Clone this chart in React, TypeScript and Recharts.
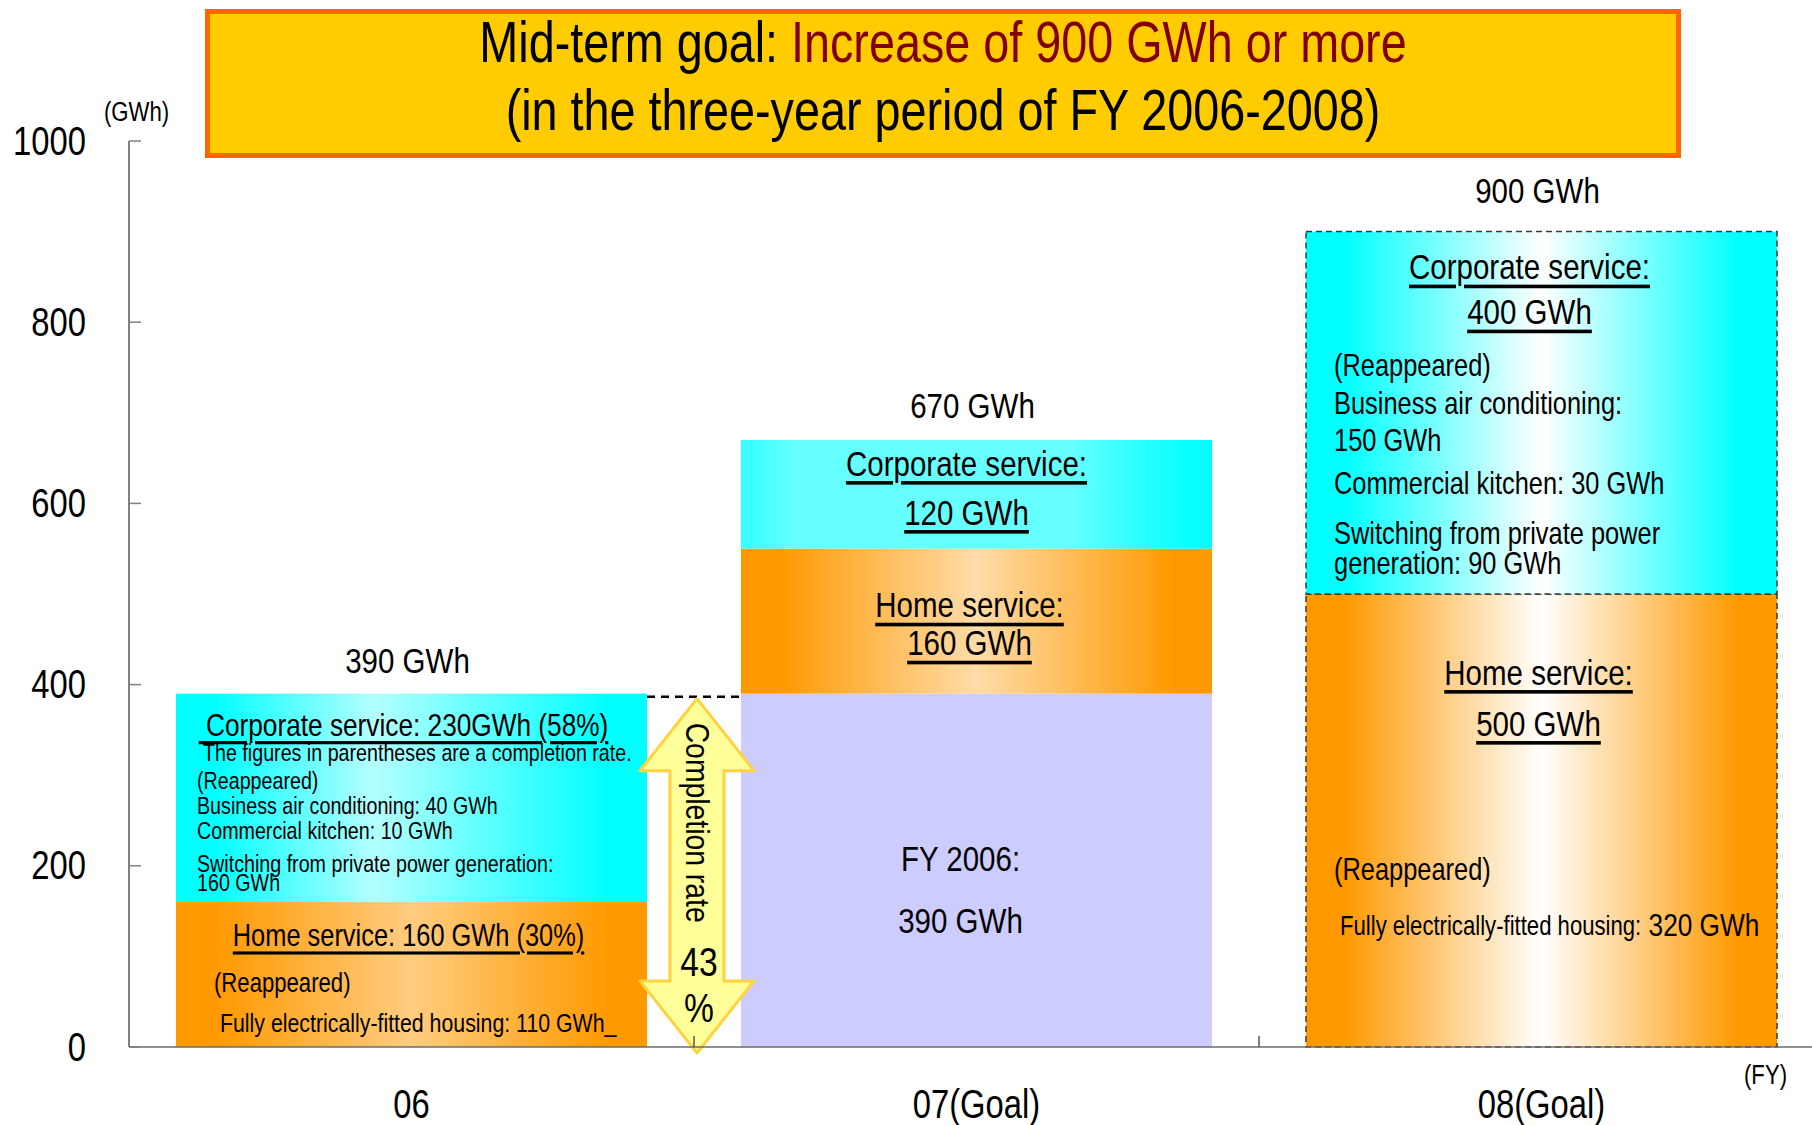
import React from "react";
import { BarChart, Bar, XAxis, YAxis } from "recharts";

const categories = ["06", "07(Goal)", "08(Goal)"];
// FY 2006 result carried into the FY 2007 goal column
const carriedOver = [0, 390, 0];
const homeService = [160, 160, 500];
const corporateService = [230, 120, 400];
const yTicks = [0, 200, 400, 600, 800, 1000];

const notes06Corporate = [
  "The figures in parentheses are a completion rate.",
  "(Reappeared)",
  "Business air conditioning: 40 GWh",
  "Commercial kitchen: 10 GWh",
  "Switching from private power generation:",
  "160 GWh",
];
const notes06Home = ["(Reappeared)", "Fully electrically-fitted housing: 110 GWh_"];
const notes08Corporate = [
  "(Reappeared)",
  "Business air conditioning:",
  "150 GWh",
  "Commercial kitchen: 30 GWh",
  "Switching from private power",
  "generation: 90 GWh",
];
const notes08Home = ["(Reappeared)", "Fully electrically-fitted housing:", "320 GWh"];

const totals = categories.map((_, i) => carriedOver[i] + homeService[i] + corporateService[i]);
const completionRate = Math.round((totals[0] / totals[2]) * 100);

const data = categories.map((name, i) => ({
  name,
  carriedOver: carriedOver[i],
  home: homeService[i],
  corporate: corporateService[i],
}));

// no narrow face installed: squeeze Liberation Sans horizontally instead
const FONT = "'Liberation Sans', Arial, sans-serif";
const SQUEEZE = 0.82;

const CHART_W = 1824;
const CHART_H = 1125;
const MARGIN = { top: 141, right: 0, bottom: 0, left: 1 };
const Y_AXIS_W = 128;
const X_AXIS_H = 78;
const CATEGORY_GAP = 47;
const BAND = (CHART_W - MARGIN.left - MARGIN.right - Y_AXIS_W) / categories.length;

type Geo = { x: number; y: number; w: number; h: number; i: number };
const geo = (p: any): Geo => ({
  x: Number(p.x) || 0,
  y: Number(p.y) || 0,
  w: Number(p.width) || 0,
  h: Number(p.height) || 0,
  i: Number(p.index) || 0,
});

function Txt({
  x,
  y,
  size,
  anchor = "start",
  underline = false,
  children,
}: {
  x: number;
  y: number;
  size?: number;
  anchor?: "start" | "middle" | "end";
  underline?: boolean;
  children: React.ReactNode;
}) {
  return (
    <text
      transform={`translate(${x} ${y}) scale(${SQUEEZE} 1)`}
      fontSize={size}
      fontFamily={FONT}
      textAnchor={anchor}
      dominantBaseline="central"
      fill="#000"
      style={underline ? { textDecoration: "underline" } : undefined}
    >
      {children}
    </text>
  );
}

function segmentRect(g: Geo, fill: string) {
  const dashed = g.i === 2;
  return (
    <rect
      x={g.x}
      y={g.y}
      width={g.w}
      height={g.h}
      fill={fill}
      stroke={dashed ? "#3a3a3a" : "none"}
      strokeWidth={1.5}
      strokeDasharray={dashed ? "6 4" : undefined}
    />
  );
}

function CompletionArrow({ cx, top, bottom }: { cx: number; top: number; bottom: number }) {
  const head = 72;
  const hw = 57;
  const sw = 27;
  const pts = [
    [cx, top],
    [cx + hw, top + head],
    [cx + sw, top + head],
    [cx + sw, bottom - head],
    [cx + hw, bottom - head],
    [cx, bottom],
    [cx - hw, bottom - head],
    [cx - sw, bottom - head],
    [cx - sw, top + head],
    [cx - hw, top + head],
  ]
    .map((p) => p.join(","))
    .join(" ");
  return (
    <g>
      <polygon points={pts} fill="#FFFF99" stroke="#FFD23F" strokeWidth={3} strokeLinejoin="round" />
      <text
        transform={`translate(${cx + 1}, ${top + 124}) rotate(90)`}
        fontSize={34}
        fontFamily={FONT}
        textAnchor="middle"
        dominantBaseline="central"
        textLength={200}
        lengthAdjust="spacingAndGlyphs"
      >
        Completion rate
      </text>
      <Txt x={cx + 2} y={bottom - 91} size={41} anchor="middle">
        {completionRate}
      </Txt>
      <Txt x={cx + 2} y={bottom - 45} size={41} anchor="middle">
        %
      </Txt>
    </g>
  );
}

function CarriedShape(p: any) {
  const g = geo(p);
  if (g.h <= 0) return <g />;
  const cx = g.x + g.w / 2 - 16;
  return (
    <g>
      <rect x={g.x} y={g.y} width={g.w} height={g.h} fill="#CCCCFF" />
      <Txt x={cx} y={g.y + 165} size={36} anchor="middle">
        FY 2006:
      </Txt>
      <Txt x={cx} y={g.y + 227} size={36} anchor="middle">
        {`${carriedOver[g.i]} GWh`}
      </Txt>
    </g>
  );
}

function HomeShape(p: any) {
  const g = geo(p);
  if (g.h <= 0) return <g />;
  const { x, y, w, i } = g;
  return (
    <g>
      {segmentRect(g, `url(#home${i})`)}
      {i === 0 && (
        <>
          <Txt x={x + w / 2 - 3} y={y + 33} size={31} anchor="middle" underline>
            {`Home service: ${homeService[0]} GWh (30%)`}
          </Txt>
          <Txt x={x + 38} y={y + 81} size={27}>
            {notes06Home[0]}
          </Txt>
          <Txt x={x + 44} y={y + 121} size={26}>
            {notes06Home[1]}
          </Txt>
        </>
      )}
      {i === 1 && (
        <>
          <Txt x={x + w / 2 - 7} y={y + 56} size={36} anchor="middle" underline>
            Home service:
          </Txt>
          <Txt x={x + w / 2 - 7} y={y + 94} size={36} anchor="middle" underline>
            {`${homeService[1]} GWh`}
          </Txt>
        </>
      )}
      {i === 2 && (
        <>
          <Txt x={x + w / 2 - 3} y={y + 78} size={36} anchor="middle" underline>
            Home service:
          </Txt>
          <Txt x={x + w / 2 - 3} y={y + 129} size={36} anchor="middle" underline>
            {`${homeService[2]} GWh`}
          </Txt>
          <Txt x={x + 28} y={y + 275} size={31}>
            {notes08Home[0]}
          </Txt>
          <Txt x={x + 34} y={y + 331}>
            <tspan fontSize={27}>{notes08Home[1]}</tspan>
            <tspan fontSize={32}>{" " + notes08Home[2]}</tspan>
          </Txt>
        </>
      )}
    </g>
  );
}

const totalLift = [33, 35, 41];

function CorporateShape(p: any) {
  const g = geo(p);
  if (g.h <= 0) return <g />;
  const { x, y, w, h, i } = g;
  const total = (
    <Txt x={x + w / 2 - 4} y={y - totalLift[i]} size={36} anchor="middle">
      {`${totals[i]} GWh`}
    </Txt>
  );
  if (i === 0) {
    const zeroY = y + (h * totals[0]) / corporateService[0];
    const rows = [59, 87, 112, 137, 170, 189];
    return (
      <g>
        {segmentRect(g, "url(#corp0)")}
        {total}
        <Txt x={x + w / 2 - 8} y={y + 31} size={32} anchor="middle" underline>
          {`\u00a0Corporate service: ${corporateService[0]}GWh (58%)`}
        </Txt>
        {notes06Corporate.map((t, k) => (
          <Txt key={k} x={x + (k === 0 ? 27 : 21)} y={y + rows[k]} size={k === 0 ? 24 : 24}>
            {t}
          </Txt>
        ))}
        <line
          x1={x + w}
          x2={x + w + 2 * CATEGORY_GAP}
          y1={y + 3}
          y2={y + 3}
          stroke="#000"
          strokeWidth={2.5}
          strokeDasharray="8 6"
        />
        <CompletionArrow cx={x + w + CATEGORY_GAP + 3} top={y + 5} bottom={zeroY + 6} />
      </g>
    );
  }
  if (i === 1) {
    return (
      <g>
        {segmentRect(g, "url(#corp1)")}
        {total}
        <Txt x={x + w / 2 - 10} y={y + 23} size={36} anchor="middle" underline>
          Corporate service:
        </Txt>
        <Txt x={x + w / 2 - 10} y={y + 72} size={36} anchor="middle" underline>
          {`${corporateService[1]} GWh`}
        </Txt>
      </g>
    );
  }
  const rows = [133, 171, 208, 251, 301, 331];
  return (
    <g>
      {segmentRect(g, "url(#corp2)")}
      {total}
      <Txt x={x + w / 2 - 12} y={y + 35} size={36} anchor="middle" underline>
        Corporate service:
      </Txt>
      <Txt x={x + w / 2 - 12} y={y + 80} size={36} anchor="middle" underline>
        {`${corporateService[2]} GWh`}
      </Txt>
      {notes08Corporate.map((t, k) => (
        <Txt key={k} x={x + 28} y={y + rows[k]} size={31}>
          {t}
        </Txt>
      ))}
    </g>
  );
}

function CategoryTick(p: any) {
  const x = Number(p.x) || 0;
  const y = Number(p.y) || 0;
  const idx = Number(p.index) || 0;
  return (
    <g>
      <Txt x={x} y={y + 57} size={40} anchor="middle">
        {p.payload?.value}
      </Txt>
      {idx < categories.length - 1 && (
        <line x1={x + BAND / 2} x2={x + BAND / 2} y1={y} y2={y - 11} stroke="#555" strokeWidth={1.5} />
      )}
    </g>
  );
}

function ValueTick(p: any) {
  return (
    <Txt x={Number(p.x) || 0} y={Number(p.y) || 0} size={40} anchor="end">
      {p.payload?.value}
    </Txt>
  );
}

function gradient(id: string, edge: string, mid: string, midAt = 0.5) {
  return (
    <linearGradient id={id} x1="0" y1="0" x2="1" y2="0">
      <stop offset="0" stopColor={edge} />
      <stop offset="0.08" stopColor={edge} />
      <stop offset={midAt} stopColor={mid} />
      <stop offset="0.92" stopColor={edge} />
      <stop offset="1" stopColor={edge} />
    </linearGradient>
  );
}

const squeezed: React.CSSProperties = {
  transform: `scaleX(${SQUEEZE})`,
  whiteSpace: "nowrap",
};

export default function App() {
  return (
    <div
      style={{
        position: "absolute",
        left: 0,
        top: 0,
        width: 1812,
        height: 1125,
        overflow: "hidden",
        background: "#fff",
        fontFamily: FONT,
      }}
    >
      <BarChart width={CHART_W} height={CHART_H} data={data} margin={MARGIN} barCategoryGap={CATEGORY_GAP}>
        <defs>
          {gradient("home0", "#FF9900", "#FFCC80")}
          {gradient("home1", "#FF9900", "#FFDCA8")}
          {gradient("home2", "#FF9900", "#FFFFFF")}
          {gradient("corp0", "#00FFFF", "#B4FFFF", 0.42)}
          <linearGradient id="corp1" x1="0" y1="0" x2="1" y2="0">
            <stop offset="0" stopColor="#33FFFF" />
            <stop offset="0.12" stopColor="#66FFFF" />
            <stop offset="0.7" stopColor="#66FFFF" />
            <stop offset="0.92" stopColor="#11FFFF" />
            <stop offset="1" stopColor="#00FFFF" />
          </linearGradient>
          {gradient("corp2", "#00FFFF", "#FFFFFF")}
        </defs>
        <XAxis
          dataKey="name"
          height={X_AXIS_H}
          interval={0}
          tickLine={false}
          tickSize={0}
          tickMargin={0}
          axisLine={{ stroke: "#6b6b6b", strokeWidth: 1.5 }}
          tick={CategoryTick}
        />
        <YAxis
          width={Y_AXIS_W}
          domain={[0, 1000]}
          ticks={yTicks}
          interval={0}
          tickSize={-12}
          tickMargin={55}
          axisLine={{ stroke: "#808080", strokeWidth: 2 }}
          tickLine={{ stroke: "#808080", strokeWidth: 1.5 }}
          tick={ValueTick}
        />
        <Bar dataKey="carriedOver" stackId="total" shape={CarriedShape} isAnimationActive={false} />
        <Bar dataKey="home" stackId="total" shape={HomeShape} isAnimationActive={false} />
        <Bar dataKey="corporate" stackId="total" shape={CorporateShape} isAnimationActive={false} />
      </BarChart>

      <div
        style={{
          position: "absolute",
          left: 205,
          top: 9,
          width: 1476,
          height: 149,
          boxSizing: "border-box",
          border: "5px solid #FF6600",
          background: "#FFCC00",
          color: "#000",
          fontSize: 57,
          lineHeight: "60px",
        }}
      >
        <div style={{ position: "absolute", left: 0, right: 0, top: -2, textAlign: "center", ...squeezed }}>
          Mid-term goal: <span style={{ color: "#800000" }}>Increase of 900 GWh or more</span>
        </div>
        <div style={{ position: "absolute", left: 0, right: 0, top: 66, textAlign: "center", ...squeezed }}>
          (in the three-year period of FY 2006-2008)
        </div>
      </div>

      <div style={{ position: "absolute", left: 104, top: 97, fontSize: 27, lineHeight: "30px", transformOrigin: "left", ...squeezed }}>
        (GWh)
      </div>
      <div style={{ position: "absolute", left: 1744, top: 1060, fontSize: 27, lineHeight: "30px", transformOrigin: "left", ...squeezed }}>
        (FY)
      </div>
    </div>
  );
}
